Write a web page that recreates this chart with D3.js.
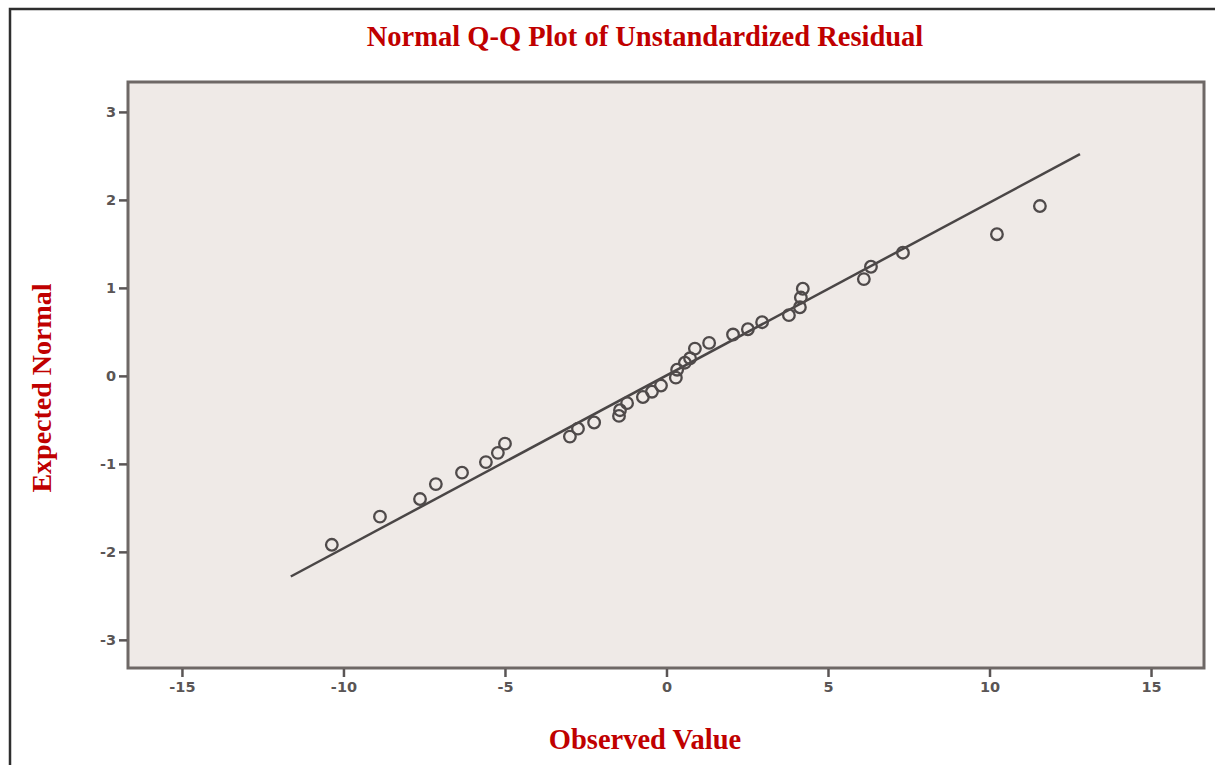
<!DOCTYPE html>
<html>
<head>
<meta charset="utf-8">
<script src="https://cdn.jsdelivr.net/npm/d3@7/dist/d3.min.js"></script>
<style>
  body { margin:0; background:#fff; }
  .tick text { font-family: "DejaVu Sans", Verdana, sans-serif; font-weight:bold; font-size:14.5px; fill:#5a5555; }
</style>
</head>
<body>
<div id="chart"></div>
<script>
// observed residuals (x) and expected normal values (y)
var observed = [-10.36, -8.87, -7.63, -7.14, -6.33, -5.59, -5.22, -5.0, -2.99, -2.74,
                -2.24, -1.47, -1.44, -1.22, -0.73, -0.45, -0.17, 0.29, 0.33, 0.57,
                0.73, 0.88, 1.32, 2.06, 2.52, 2.96, 3.79, 4.13, 4.16, 4.22,
                6.11, 6.33, 7.32, 10.23, 11.56]
var expected = [-1.92, -1.60, -1.40, -1.23, -1.10, -0.98, -0.875, -0.77, -0.69, -0.60,
                -0.53, -0.455, -0.39, -0.31, -0.24, -0.18, -0.11, -0.02, 0.07, 0.15,
                0.20, 0.31, 0.375, 0.47, 0.53, 0.61, 0.69, 0.78, 0.89, 0.99,
                1.10, 1.24, 1.40, 1.61, 1.93]
// reference line end points
var lineX = [-11.63, 12.8]
var lineY = [-2.28, 2.52]
var xTicks = [-15, -10, -5, 0, 5, 10, 15]
var yTicks = [-3, -2, -1, 0, 1, 2, 3]

var W = 1215, H = 765
var plot = {left:128, top:82, right:1204, bottom:668}

var svg = d3.select("#chart").append("svg").attr("width", W).attr("height", H)

// outer frame
svg.append("rect").attr("x", 10).attr("y", 9).attr("width", W).attr("height", H)
   .style("fill", "none").style("stroke", "#2e2e2e").style("stroke-width", 2.5)

var x = d3.scaleLinear().domain([-16.67, 16.64]).range([plot.left, plot.right])
var y = d3.scaleLinear().domain([-3.32, 3.34]).range([plot.bottom, plot.top])

svg.append("rect")
   .attr("x", plot.left).attr("y", plot.top)
   .attr("width", plot.right - plot.left).attr("height", plot.bottom - plot.top)
   .style("fill", "#efeae7").style("stroke", "#6e6866").style("stroke-width", 3)

var fmt = function(d) { return String(d) }   // plain hyphen minus like the original

var xAxis = svg.append("g").attr("transform", "translate(0," + (plot.bottom + 1) + ")")
   .call(d3.axisBottom(x).tickValues(xTicks).tickSize(8).tickPadding(5).tickFormat(fmt))
xAxis.select(".domain").remove()
xAxis.selectAll("line").style("stroke", "#5a5555").style("stroke-width", 2.5)

var yAxis = svg.append("g").attr("transform", "translate(" + (plot.left - 1) + ",0)")
   .call(d3.axisLeft(y).tickValues(yTicks).tickSize(8).tickPadding(3).tickFormat(fmt))
yAxis.select(".domain").remove()
yAxis.selectAll("line").style("stroke", "#5a5555").style("stroke-width", 2.5)

// reference line
svg.append("line")
   .attr("x1", x(lineX[0])).attr("y1", y(lineY[0]))
   .attr("x2", x(lineX[1])).attr("y2", y(lineY[1]))
   .style("stroke", "#4a4646").style("stroke-width", 2.5)

// points
svg.append("g").selectAll("circle")
   .data(observed.map(function(d, i) { return [d, expected[i]] }))
   .enter().append("circle")
   .attr("cx", function(d) { return x(d[0]) })
   .attr("cy", function(d) { return y(d[1]) })
   .attr("r", 5.8)
   .style("fill", "none").style("stroke", "#4f4a4a").style("stroke-width", 2.3)

var red = "#c00000"
var serif = "'Liberation Serif', 'DejaVu Serif', serif"

svg.append("text").attr("x", 645).attr("y", 46)
   .attr("text-anchor", "middle")
   .style("font-family", serif).style("font-weight", "bold").style("font-size", "28.5px")
   .style("fill", red)
   .text("Normal Q-Q Plot of Unstandardized Residual")

svg.append("text").attr("x", 645).attr("y", 749)
   .attr("text-anchor", "middle")
   .style("font-family", serif).style("font-weight", "bold").style("font-size", "28.5px")
   .style("fill", red)
   .text("Observed Value")

svg.append("text")
   .attr("transform", "translate(51,388) rotate(-90)")
   .attr("text-anchor", "middle")
   .style("font-family", serif).style("font-weight", "bold").style("font-size", "28px")
   .style("fill", red)
   .text("Expected Normal")
</script>
</body>
</html>
